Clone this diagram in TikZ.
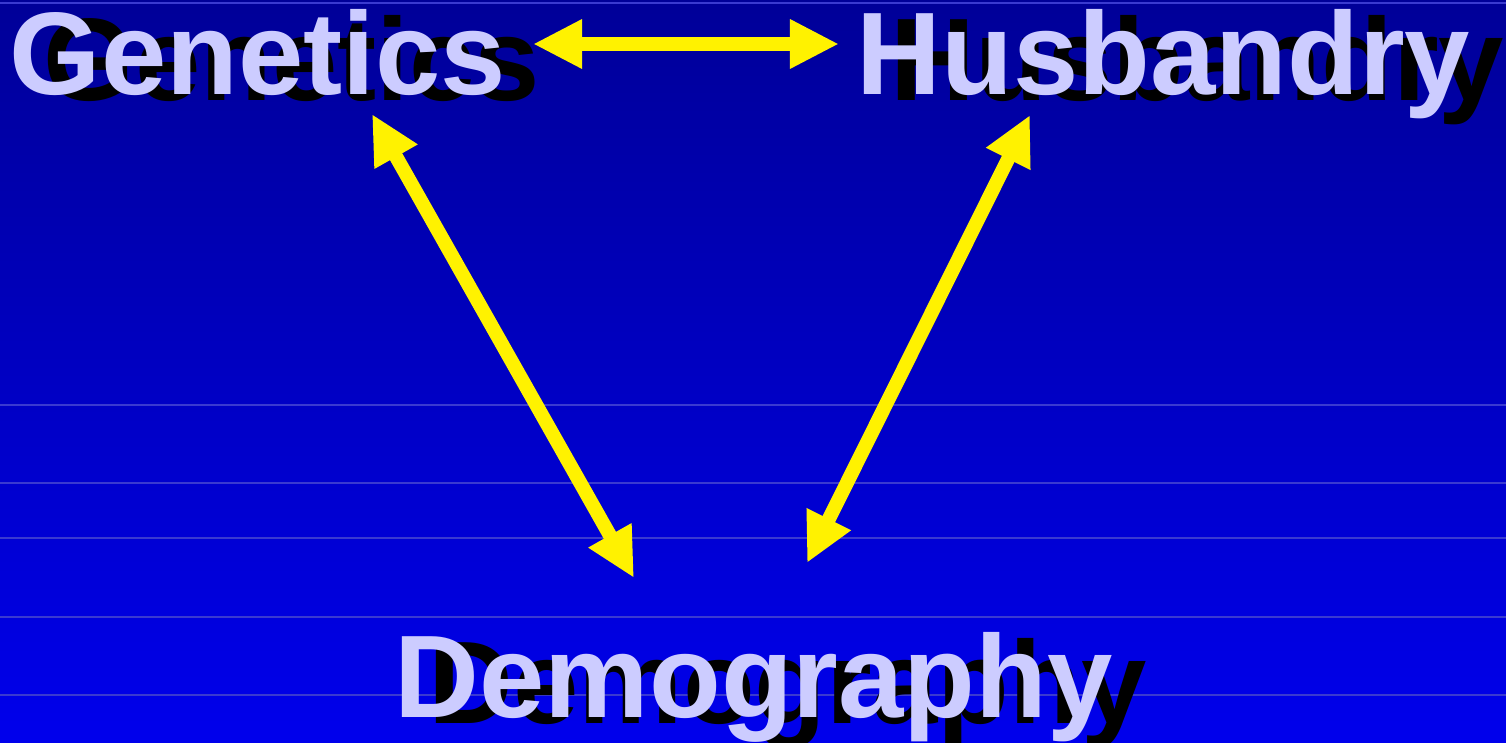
\documentclass[tikz,border=0pt]{standalone}
\usepackage{fontspec}
\setmainfont{Liberation Sans}
\usetikzlibrary{arrows.meta}
\definecolor{slidetop}{RGB}{0,0,152}
\definecolor{slidebottom}{RGB}{0,0,236}
\definecolor{wordcol}{RGB}{204,204,255}
\definecolor{bandcol}{RGB}{58,58,208}

\begin{document}
\begin{tikzpicture}[x=0.01cm, y=-0.01cm,
  word/.style={anchor=base west, inner sep=0pt, text=wordcol,
    font=\fontsize{33.4}{40}\selectfont\bfseries},
  wordshadow/.style={word, text=black},
  link/.style={draw=yellow, line width=0.14cm,
    {Triangle[length=0.49cm, width=0.46cm]}-{Triangle[length=0.49cm, width=0.46cm]}}]
\useasboundingbox (0,0) rectangle (1506,743);
\clip (0,0) rectangle (1506,743);
\shade[top color=slidetop, bottom color=slidebottom] (0,0) rectangle (1506,743);
\foreach \y in {3,405,483,538,617,695}
  \draw[bandcol, line width=0.3pt] (0,\y) -- (1506,\y);
\coordinate (G) at (9,95);
\coordinate (H) at (856,95);
\coordinate (D) at (394,717);
\coordinate (gh) at (533,44);
\coordinate (hg) at (839,44);
\coordinate (gd) at (372,114);
\coordinate (dg) at (634,578);
\coordinate (hd) at (1030,115);
\coordinate (dh) at (807,563);
\node[wordshadow] (gens) at ([shift={(34,6)}]G) {Genetics};
\node[wordshadow] (huss) at ([shift={(34,6)}]H) {Husbandry};
\node[wordshadow] (dems) at ([shift={(34,6)}]D) {Demography};
\node[word] (gen) at (G) {Genetics};
\node[word] (hus) at (H) {Husbandry};
\node[word] (dem) at (D) {Demography};
\draw[link] (gh) -- (hg);
\draw[link] (gd) -- (dg);
\draw[link] (hd) -- (dh);
\end{tikzpicture}
\end{document}
